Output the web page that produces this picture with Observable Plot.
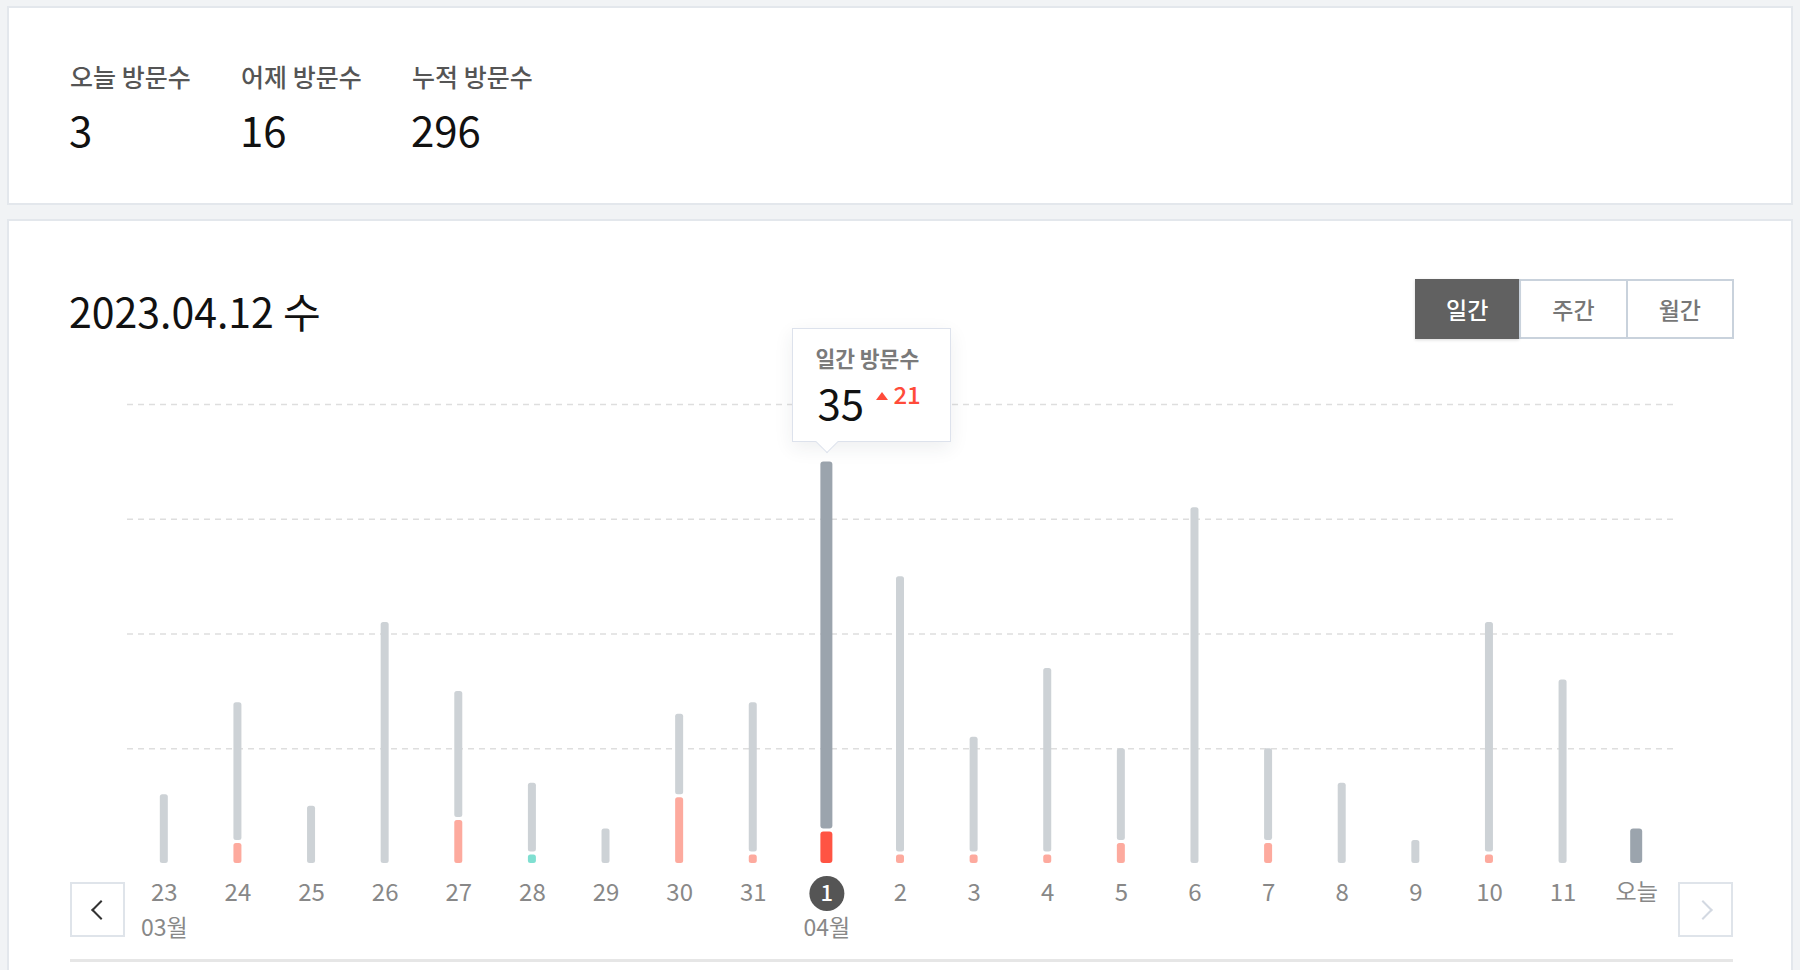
<!DOCTYPE html>
<html>
<head>
<meta charset="utf-8">
<script src="https://cdn.jsdelivr.net/npm/d3@7"></script>
<script src="https://cdn.jsdelivr.net/npm/@observablehq/plot@0.6"></script>
<style>
  html, body { margin: 0; padding: 0; }
  body { width: 1800px; height: 970px; overflow: hidden; position: relative; background: #f1f3f5;
         font-family: "Noto Sans CJK KR", "Noto Sans", sans-serif; }
  .card { position: absolute; box-sizing: border-box; background: #fff; border: 2px solid #e3e7ec; }
  .abs { position: absolute; white-space: nowrap; }
  .slabel { font-size: 25px; line-height: 25px; font-weight: 500; color: #555; }
  .snum { font-size: 42px; line-height: 42px; font-weight: 400; color: #111; }
  .title { font-size: 41px; line-height: 41px; font-weight: 400; color: #111; }
  .seg { position: absolute; left: 1415px; top: 279px; width: 319px; height: 60px; box-sizing: border-box;
         border: 2px solid #c9d2dc; display: flex; background: #fff; }
  .seg div { flex: 1; display: flex; align-items: center; justify-content: center; font-size: 23px;
             font-weight: 500; color: #777; }
  .seg div + div { border-left: 2px solid #c9d2dc; }
  .seg .on { background: #616161; color: #fff; margin: -2px 0 -2px -2px; box-shadow: 0 1px 3px rgba(0,0,0,0.15); }
  .nav { position: absolute; box-sizing: border-box; width: 55px; height: 55px; border: 2px solid #dfe4ea; background: #fff; }
  .chev { position: absolute; width: 12px; height: 12px; top: 19px; }
  .tip { position: absolute; box-sizing: border-box; width: 159px; height: 114px; background: #fff;
         border: 1.5px solid #dde2ec; box-shadow: 0 6px 18px rgba(40,50,70,0.08); }
  .tip .arrow { position: absolute; left: 26px; bottom: -9px; width: 16px; height: 16px;
                background: #fff; border-right: 1.5px solid #dde2ec; border-bottom: 1.5px solid #dde2ec;
                transform: rotate(45deg); box-sizing: border-box; }
  #chart { position: absolute; left: 0; top: 330px; }
</style>
</head>
<body>
<div class="card" style="left:7px; top:6px; width:1786px; height:199px;"></div>
<div class="card" style="left:7px; top:219px; width:1786px; height:800px;"></div>

<div id="summary"></div>
<div class="abs title" style="left:69px; top:290px;">2023.04.12 수</div>

<div class="seg"><div class="on">일간</div><div>주간</div><div>월간</div></div>

<div id="chart"></div>

<div class="nav" style="left:70px; top:882px;">
  <div class="chev" style="left:22px; border-left:2px solid #333; border-bottom:2px solid #333; transform: rotate(45deg);"></div>
</div>
<div class="nav" style="left:1678px; top:882px;">
  <div class="chev" style="left:16px; border-right:2px solid #d3d9e2; border-top:2px solid #d3d9e2; transform: rotate(45deg);"></div>
</div>
<div class="abs" style="left:70px; top:959px; width:1663px; height:3px; background:#e6e6e6;"></div>

<div class="tip" id="tip">
  <div class="abs" style="left:22px; top:18px; font-size:21.5px; line-height:21.5px; font-weight:700; color:#7a7a7a;">일간 방문수</div>
  <div class="abs" id="tipVal" style="left:24px; top:52px; font-size:42px; line-height:42px; color:#111;"></div>
  <div class="abs" style="left:83px; top:63px; width:0; height:0; border-left:6px solid transparent; border-right:6px solid transparent; border-bottom:8px solid #ff4b3a;"></div>
  <div class="abs" id="tipDelta" style="left:100px; top:53px; font-size:24px; line-height:24px; font-weight:500; color:#ff4b3a;"></div>
  <div class="arrow"></div>
</div>

<script>
// ---- data ----
const summaryLabels = ["오늘 방문수", "어제 방문수", "누적 방문수"];
const summaryValues = [3, 16, 296];

const days = ["23","24","25","26","27","28","29","30","31","1","2","3","4","5","6","7","8","9","10","11","오늘"];
const totals = [6,14,5,21,15,7,3,13,14,35,25,11,17,10,31,10,7,2,21,16,3];
const parts  = [0,2,0,0,4,1,0,6,1,3,1,1,1,2,0,2,0,0,1,0,0];
const partKinds = ["","up","","","up","down","","up","up","up","up","up","up","up","","up","","","up","",""];
const monthDays = ["23","1"];
const monthLabels = ["03월","04월"];
const gridValues = [10,20,30,40];
const selectedDay = "1";
const todayDay = "오늘";

// ---- summary ----
const summaryX = [70, 241, 412];
const sumEl = document.getElementById("summary");
summaryLabels.forEach((l, i) => {
  const a = document.createElement("div");
  a.className = "abs slabel"; a.style.left = summaryX[i] + "px"; a.style.top = "64px"; a.textContent = l;
  const b = document.createElement("div");
  b.className = "abs snum"; b.style.left = (summaryX[i] - 1) + "px"; b.style.top = "108px"; b.textContent = summaryValues[i];
  sumEl.appendChild(a); sumEl.appendChild(b);
});

// ---- chart ----
const rows = days.map((d, i) => ({
  day: d, total: totals[i], part: parts[i], kind: partKinds[i],
  state: d === selectedDay ? "selected" : d === todayDay ? "today" : "normal"
}));
const prevTotal = totals[days.indexOf(selectedDay) - 1];
const selTotal = totals[days.indexOf(selectedDay)];

const W = 1800, H = 640, mL = 127, mR = 127, mT = 74, mB = 107;
const bw = (W - mL - mR) / days.length;
const inN = (bw - 8) / 2, inW = (bw - 12) / 2;

const grayFill = d => d.state === "normal" ? "#cdd2d6" : "#9ba4ad";
const partFill = d => d.state === "selected" ? "#ff5443" : d.kind === "down" ? "#7fdfd1" : "#fdaa9e";

const normal = rows.filter(d => d.state === "normal");
const wide = rows.filter(d => d.state !== "normal");

const chart = Plot.plot({
  width: W, height: H,
  marginLeft: mL, marginRight: mR, marginTop: mT, marginBottom: mB,
  style: { background: "transparent", fontFamily: "'Noto Sans CJK KR', sans-serif", overflow: "visible" },
  x: { type: "band", domain: days, padding: 0, round: false, axis: null },
  y: { domain: [0, 40], axis: null },
  marks: [
    Plot.ruleY(gridValues, { stroke: "#dedede", strokeWidth: 1.5, strokeDasharray: "6,5" }),
    Plot.barY(normal, { x: "day", y1: "part", y2: "total", fill: grayFill, insetLeft: inN, insetRight: inN, rx: 2.5 }),
    Plot.barY(normal.filter(d => d.part > 0), { x: "day", y1: () => 0, y2: "part", fill: partFill, insetLeft: inN, insetRight: inN, insetTop: 3, rx: 2.5 }),
    Plot.barY(wide, { x: "day", y1: "part", y2: "total", fill: grayFill, insetLeft: inW, insetRight: inW, rx: 3 }),
    Plot.barY(wide.filter(d => d.part > 0), { x: "day", y1: () => 0, y2: "part", fill: partFill, insetLeft: inW, insetRight: inW, insetTop: 3, rx: 3 }),
    Plot.text(rows.filter(d => d.state === "normal"), { x: "day", y: () => 0, dy: 30, text: "day", fill: "#888", fontSize: 24 }),
    Plot.text(rows.filter(d => d.state === "today"), { x: "day", y: () => 0, dy: 29, text: "day", fill: "#888", fontSize: 23 }),
    Plot.dot(rows.filter(d => d.state === "selected"), { x: "day", y: () => 0, dy: 30, r: 17.5, fill: "#555", stroke: null }),
    Plot.text(rows.filter(d => d.state === "selected"), { x: "day", y: () => 0, dy: 30, text: "day", fill: "#fff", fontSize: 22, fontWeight: 500 }),
    Plot.text(monthDays.map((d, i) => ({ day: d, label: monthLabels[i] })), { x: "day", y: () => 0, dy: 65, text: "label", fill: "#888", fontSize: 23 })
  ]
});
document.getElementById("chart").appendChild(chart);

// ---- tooltip positioned from the plot's scales ----
const xs = chart.scale("x"), ys = chart.scale("y");
const cx = xs.apply(selectedDay) + xs.bandwidth / 2;
const topY = 330 + ys.apply(selTotal);
const tip = document.getElementById("tip");
tip.style.left = (cx - 34) + "px";
tip.style.top = (topY - 133) + "px";
document.getElementById("tipVal").textContent = selTotal;
document.getElementById("tipDelta").textContent = selTotal - prevTotal;
</script>
</body>
</html>
